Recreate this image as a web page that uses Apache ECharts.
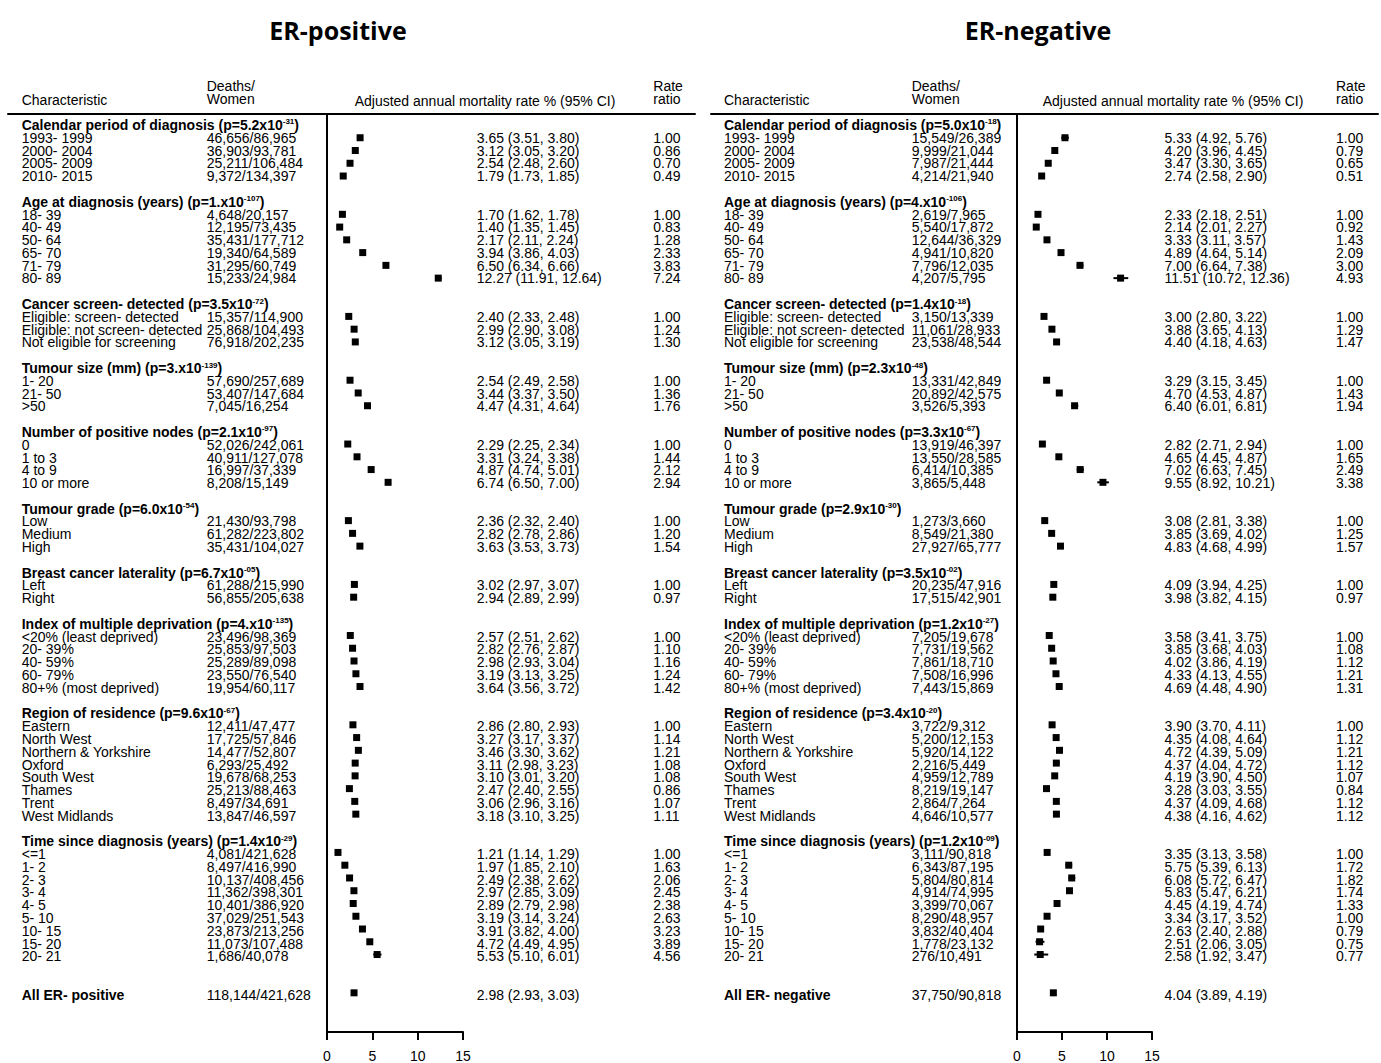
<!DOCTYPE html>
<html>
<head>
<meta charset="utf-8">
<title>Adjusted annual mortality rate by characteristic, ER-positive and ER-negative</title>
<script src="https://cdn.jsdelivr.net/npm/echarts@6/dist/echarts.min.js"></script>
<style>
  html, body { margin: 0; padding: 0; background: #fff; }
  #chart { width: 1381px; height: 1063px; }
</style>
</head>
<body>
<div id="chart"></div>
<script>
// ---- Row structure shared by both panels ----
const sectionNames = [
  'Calendar period of diagnosis', 'Age at diagnosis (years)', 'Cancer screen- detected',
  'Tumour size (mm)', 'Number of positive nodes', 'Tumour grade', 'Breast cancer laterality',
  'Index of multiple deprivation', 'Region of residence', 'Time since diagnosis (years)'
];
const rowLabels = [
  ['1993- 1999', '2000- 2004', '2005- 2009', '2010- 2015'],
  ['18- 39', '40- 49', '50- 64', '65- 70', '71- 79', '80- 89'],
  ['Eligible: screen- detected', 'Eligible: not screen- detected', 'Not eligible for screening'],
  ['1- 20', '21- 50', '>50'],
  ['0', '1 to 3', '4 to 9', '10 or more'],
  ['Low', 'Medium', 'High'],
  ['Left', 'Right'],
  ['<20% (least deprived)', '20- 39%', '40- 59%', '60- 79%', '80+% (most deprived)'],
  ['Eastern', 'North West', 'Northern & Yorkshire', 'Oxford', 'South West', 'Thames', 'Trent', 'West Midlands'],
  ['<=1', '1- 2', '2- 3', '3- 4', '4- 5', '5- 10', '10- 15', '15- 20', '20- 21']
];
const axisTicks = [0, 5, 10, 15];

// ---- ER-positive ----
const posPMant = ['5.2', '1.', '3.5', '3.', '2.1', '6.0', '6.7', '4.', '9.6', '1.4'];
const posPExp = ['-31', '-107', '-72', '-139', '-97', '-54', '-05', '-135', '-67', '-29'];
const posDeaths = [
  '46,656/86,965', '36,903/93,781', '25,211/106,484', '9,372/134,397',
  '4,648/20,157', '12,195/73,435', '35,431/177,712', '19,340/64,589', '31,295/60,749', '15,233/24,984',
  '15,357/114,900', '25,868/104,493', '76,918/202,235',
  '57,690/257,689', '53,407/147,684', '7,045/16,254',
  '52,026/242,061', '40,911/127,078', '16,997/37,339', '8,208/15,149',
  '21,430/93,798', '61,282/223,802', '35,431/104,027',
  '61,288/215,990', '56,855/205,638',
  '23,496/98,369', '25,853/97,503', '25,289/89,098', '23,550/76,540', '19,954/60,117',
  '12,411/47,477', '17,725/57,846', '14,477/52,807', '6,293/25,492', '19,678/68,253', '25,213/88,463', '8,497/34,691', '13,847/46,597',
  '4,081/421,628', '8,497/416,990', '10,137/408,456', '11,362/398,301', '10,401/386,920', '37,029/251,543', '23,873/213,256', '11,073/107,488', '1,686/40,078'
];
const posRate = [
  3.65, 3.12, 2.54, 1.79,
  1.70, 1.40, 2.17, 3.94, 6.50, 12.27,
  2.40, 2.99, 3.12,
  2.54, 3.44, 4.47,
  2.29, 3.31, 4.87, 6.74,
  2.36, 2.82, 3.63,
  3.02, 2.94,
  2.57, 2.82, 2.98, 3.19, 3.64,
  2.86, 3.27, 3.46, 3.11, 3.10, 2.47, 3.06, 3.18,
  1.21, 1.97, 2.49, 2.97, 2.89, 3.19, 3.91, 4.72, 5.53
];
const posLower = [
  3.51, 3.05, 2.48, 1.73,
  1.62, 1.35, 2.11, 3.86, 6.34, 11.91,
  2.33, 2.90, 3.05,
  2.49, 3.37, 4.31,
  2.25, 3.24, 4.74, 6.50,
  2.32, 2.78, 3.53,
  2.97, 2.89,
  2.51, 2.76, 2.93, 3.13, 3.56,
  2.80, 3.17, 3.30, 2.98, 3.01, 2.40, 2.96, 3.10,
  1.14, 1.85, 2.38, 2.85, 2.79, 3.14, 3.82, 4.49, 5.10
];
const posUpper = [
  3.80, 3.20, 2.60, 1.85,
  1.78, 1.45, 2.24, 4.03, 6.66, 12.64,
  2.48, 3.08, 3.19,
  2.58, 3.50, 4.64,
  2.34, 3.38, 5.01, 7.00,
  2.40, 2.86, 3.73,
  3.07, 2.99,
  2.62, 2.87, 3.04, 3.25, 3.72,
  2.93, 3.37, 3.62, 3.23, 3.20, 2.55, 3.16, 3.25,
  1.29, 2.10, 2.62, 3.09, 2.98, 3.24, 4.00, 4.95, 6.01
];
const posRatio = [
  1.00, 0.86, 0.70, 0.49,
  1.00, 0.83, 1.28, 2.33, 3.83, 7.24,
  1.00, 1.24, 1.30,
  1.00, 1.36, 1.76,
  1.00, 1.44, 2.12, 2.94,
  1.00, 1.20, 1.54,
  1.00, 0.97,
  1.00, 1.10, 1.16, 1.24, 1.42,
  1.00, 1.14, 1.21, 1.08, 1.08, 0.86, 1.07, 1.11,
  1.00, 1.63, 2.06, 2.45, 2.38, 2.63, 3.23, 3.89, 4.56
];
const posAllDeaths = '118,144/421,628';
const posAll = [2.98, 2.93, 3.03];

// ---- ER-negative ----
const negPMant = ['5.0', '4.', '1.4', '2.3', '3.3', '2.9', '3.5', '1.2', '3.4', '1.2'];
const negPExp = ['-18', '-106', '-18', '-48', '-67', '-30', '-02', '-27', '-20', '-09'];
const negDeaths = [
  '15,549/26,389', '9,999/21,044', '7,987/21,444', '4,214/21,940',
  '2,619/7,965', '5,540/17,872', '12,644/36,329', '4,941/10,820', '7,796/12,035', '4,207/5,795',
  '3,150/13,339', '11,061/28,933', '23,538/48,544',
  '13,331/42,849', '20,892/42,575', '3,526/5,393',
  '13,919/46,397', '13,550/28,585', '6,414/10,385', '3,865/5,448',
  '1,273/3,660', '8,549/21,380', '27,927/65,777',
  '20,235/47,916', '17,515/42,901',
  '7,205/19,678', '7,731/19,562', '7,861/18,710', '7,508/16,996', '7,443/15,869',
  '3,722/9,312', '5,200/12,153', '5,920/14,122', '2,216/5,449', '4,959/12,789', '8,219/19,147', '2,864/7,264', '4,646/10,577',
  '3,111/90,818', '6,343/87,195', '5,804/80,814', '4,914/74,995', '3,399/70,067', '8,290/48,957', '3,832/40,404', '1,778/23,132', '276/10,491'
];
const negRate = [
  5.33, 4.20, 3.47, 2.74,
  2.33, 2.14, 3.33, 4.89, 7.00, 11.51,
  3.00, 3.88, 4.40,
  3.29, 4.70, 6.40,
  2.82, 4.65, 7.02, 9.55,
  3.08, 3.85, 4.83,
  4.09, 3.98,
  3.58, 3.85, 4.02, 4.33, 4.69,
  3.90, 4.35, 4.72, 4.37, 4.19, 3.28, 4.37, 4.38,
  3.35, 5.75, 6.08, 5.83, 4.45, 3.34, 2.63, 2.51, 2.58
];
const negLower = [
  4.92, 3.96, 3.30, 2.58,
  2.18, 2.01, 3.11, 4.64, 6.64, 10.72,
  2.80, 3.65, 4.18,
  3.15, 4.53, 6.01,
  2.71, 4.45, 6.63, 8.92,
  2.81, 3.69, 4.68,
  3.94, 3.82,
  3.41, 3.68, 3.86, 4.13, 4.48,
  3.70, 4.08, 4.39, 4.04, 3.90, 3.03, 4.09, 4.16,
  3.13, 5.39, 5.72, 5.47, 4.19, 3.17, 2.40, 2.06, 1.92
];
const negUpper = [
  5.76, 4.45, 3.65, 2.90,
  2.51, 2.27, 3.57, 5.14, 7.38, 12.36,
  3.22, 4.13, 4.63,
  3.45, 4.87, 6.81,
  2.94, 4.87, 7.45, 10.21,
  3.38, 4.02, 4.99,
  4.25, 4.15,
  3.75, 4.03, 4.19, 4.55, 4.90,
  4.11, 4.64, 5.09, 4.72, 4.50, 3.55, 4.68, 4.62,
  3.58, 6.13, 6.47, 6.21, 4.74, 3.52, 2.88, 3.05, 3.47
];
const negRatio = [
  1.00, 0.79, 0.65, 0.51,
  1.00, 0.92, 1.43, 2.09, 3.00, 4.93,
  1.00, 1.29, 1.47,
  1.00, 1.43, 1.94,
  1.00, 1.65, 2.49, 3.38,
  1.00, 1.25, 1.57,
  1.00, 0.97,
  1.00, 1.08, 1.12, 1.21, 1.31,
  1.00, 1.12, 1.21, 1.12, 1.07, 0.84, 1.12, 1.12,
  1.00, 1.72, 1.82, 1.74, 1.33, 1.00, 0.79, 0.75, 0.77
];
const negAllDeaths = '37,750/90,818';
const negAll = [4.04, 3.89, 4.19];

// ---- Layout ----
const FONT = '14px "Liberation Sans", Arial, sans-serif';
const FONT_BOLD = 'bold 14px "Liberation Sans", Arial, sans-serif';
const FONT_SUP = 'bold 8px "Liberation Sans", Arial, sans-serif';
const GRID_TOP = 114;
const GRID_HEIGHT = 920;
const ROW_MIN = -0.86;   // row index at the header rule
const ROW_MAX = 71.07;   // row index at the bottom axis

const panels = [
  {
    title: 'ER-positive', allLabel: 'All ER- positive',
    pMant: posPMant, pExp: posPExp, deaths: posDeaths, est: posRate, lo: posLower, hi: posUpper,
    ratio: posRatio, allDeaths: posAllDeaths, all: posAll,
    titleX: 338, tableLeft: 8, tableWidth: 687, plotLeft: 327, plotWidth: 136,
    col: { chr: 13.7, deaths: 198.7, ci: 468.7, ratio: 645.3, ciHead: 477 }
  },
  {
    title: 'ER-negative', allLabel: 'All ER- negative',
    pMant: negPMant, pExp: negPExp, deaths: negDeaths, est: negRate, lo: negLower, hi: negUpper,
    ratio: negRatio, allDeaths: negAllDeaths, all: negAll,
    titleX: 1038, tableLeft: 711, tableWidth: 667, plotLeft: 1017, plotWidth: 135,
    col: { chr: 13, deaths: 200.7, ci: 453.5, ratio: 625, ciHead: 462 }
  }
];

const ciText = (e, l, h) => `${e.toFixed(2)} (${l.toFixed(2)}, ${h.toFixed(2)})`;

// Lay out one panel's rows: section heading, its items, then a blank line.
function buildPanel(p) {
  const texts = [];
  const marks = [];
  const c = p.col;
  // column headers
  texts.push({ x: c.chr, row: -1.95, text: 'Characteristic' });
  texts.push({ x: c.deaths, row: -3.05, text: 'Deaths/' });
  texts.push({ x: c.deaths, row: -2.03, text: 'Women' });
  texts.push({ x: c.ciHead, row: -1.9, text: 'Adjusted annual mortality rate % (95% CI)', align: 'center' });
  texts.push({ x: c.ratio, row: -3.05, text: 'Rate' });
  texts.push({ x: c.ratio, row: -2.03, text: 'ratio' });

  let r = 0, k = 0;
  sectionNames.forEach((name, i) => {
    texts.push({ x: c.chr, row: r, heading: true, text: `{b|${name} (p=${p.pMant[i]}x10}{s|${p.pExp[i]}}{b|)}` });
    rowLabels[i].forEach(lab => {
      r += 1;
      texts.push({ x: c.chr, row: r, text: lab });
      texts.push({ x: c.deaths, row: r, text: p.deaths[k] });
      texts.push({ x: c.ci, row: r, text: ciText(p.est[k], p.lo[k], p.hi[k]) });
      texts.push({ x: c.ratio, row: r, text: p.ratio[k].toFixed(2) });
      marks.push([p.est[k], p.lo[k], p.hi[k], r]);
      k += 1;
    });
    r += 2;
  });
  const allRow = r + 1;
  texts.push({ x: c.chr, row: allRow, text: p.allLabel, bold: true });
  texts.push({ x: c.deaths, row: allRow, text: p.allDeaths });
  texts.push({ x: c.ci, row: allRow, text: ciText(p.all[0], p.all[1], p.all[2]) });
  marks.push([p.all[0], p.all[1], p.all[2], allRow]);
  return { texts, marks };
}

const grid = [], xAxis = [], yAxis = [], series = [], graphic = [];

panels.forEach((p, pi) => {
  const { texts, marks } = buildPanel(p);
  const tableIdx = pi * 2, plotIdx = pi * 2 + 1;

  // text table grid: x in pixels from the left of the header rule
  grid.push({ left: p.tableLeft, top: GRID_TOP, width: p.tableWidth, height: GRID_HEIGHT });
  xAxis.push({
    gridIndex: tableIdx, type: 'value', min: 0, max: p.tableWidth, position: 'top',
    axisLine: { show: true, onZero: false, lineStyle: { color: '#000', width: 2 } },
    axisTick: { show: false }, axisLabel: { show: false }, splitLine: { show: false }
  });
  yAxis.push({ gridIndex: tableIdx, type: 'value', min: ROW_MIN, max: ROW_MAX, inverse: true, show: false });

  // forest plot grid: mortality rate % on x
  grid.push({ left: p.plotLeft, top: GRID_TOP, width: p.plotWidth, height: GRID_HEIGHT });
  xAxis.push({
    gridIndex: plotIdx, type: 'value', min: axisTicks[0], max: axisTicks[axisTicks.length - 1],
    interval: axisTicks[1] - axisTicks[0], position: 'bottom',
    axisLine: { show: true, onZero: false, lineStyle: { color: '#000', width: 2 } },
    axisTick: { show: true, length: 8, lineStyle: { color: '#000', width: 2 } },
    axisLabel: { show: true, color: '#000', fontSize: 14, fontFamily: 'Liberation Sans', margin: 17 },
    splitLine: { show: false }
  });
  yAxis.push({
    gridIndex: plotIdx, type: 'value', min: ROW_MIN, max: ROW_MAX, inverse: true,
    axisLine: { show: true, onZero: false, lineStyle: { color: '#000', width: 2 } },
    axisTick: { show: false }, axisLabel: { show: false }, splitLine: { show: false }
  });

  series.push({
    type: 'custom', name: p.title + ' table', xAxisIndex: tableIdx, yAxisIndex: tableIdx,
    silent: true, clip: false,
    data: texts.map((t, i) => [t.x, t.row, i]),
    encode: { x: 0, y: 1 },
    renderItem: (params, api) => {
      const t = texts[api.value(2)];
      const pt = api.coord([api.value(0), api.value(1)]);
      const style = {
        legacy: false, text: t.text, fill: '#000',
        font: t.bold ? FONT_BOLD : FONT,
        align: t.align || 'left', verticalAlign: 'middle'
      };
      if (t.heading) {
        style.rich = {
          b: { font: FONT_BOLD, fill: '#000' },
          s: { font: FONT_SUP, fill: '#000', verticalAlign: 'top' }
        };
      }
      return { type: 'text', x: pt[0], y: pt[1], style };
    }
  });

  series.push({
    type: 'custom', name: p.title + ' rates', xAxisIndex: plotIdx, yAxisIndex: plotIdx,
    silent: true, clip: false,
    data: marks,
    encode: { x: [0, 1, 2], y: 3 },
    renderItem: (params, api) => {
      const row = api.value(3);
      const c = api.coord([api.value(0), row]);
      const lo = api.coord([api.value(1), row]);
      const hi = api.coord([api.value(2), row]);
      const s = 7;
      return {
        type: 'group',
        children: [
          { type: 'line', shape: { x1: lo[0], y1: c[1], x2: hi[0], y2: c[1] }, style: { stroke: '#000', lineWidth: 2 } },
          { type: 'rect', shape: { x: c[0] - s / 2, y: c[1] - s / 2, width: s, height: s }, style: { fill: '#000' } }
        ]
      };
    }
  });

  graphic.push({
    type: 'text', x: p.titleX, y: 30,
    style: {
      text: p.title, fill: '#000', font: 'bold 25px "Open Sans", sans-serif',
      align: 'center', verticalAlign: 'middle', textAlign: 'center', textVerticalAlign: 'middle'
    }
  });
});

const chart = echarts.init(document.getElementById('chart'), null, { renderer: 'svg' });
chart.setOption({
  animation: false,
  backgroundColor: '#fff',
  grid, xAxis, yAxis, series, graphic
});
</script>
</body>
</html>
